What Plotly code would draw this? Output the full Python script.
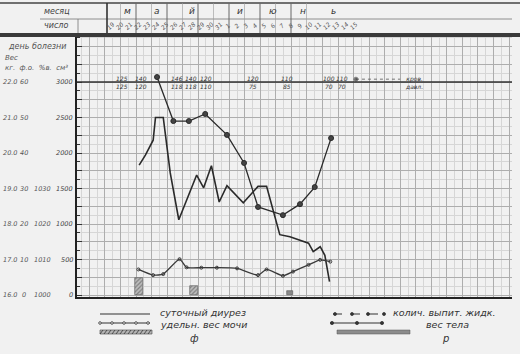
import plotly.graph_objects as go

# ---------------- data ----------------
# x unit = one day of observation (half a major grid cell)
diuresis_day = [8.4, 9.2, 10.2, 10.5, 11.5, 12.4, 13.5, 15.8, 16.7, 17.7, 18.7, 19.7, 21.8, 23.7, 24.8,
                26.5, 27.8, 30.2, 30.8, 31.7, 32.3, 32.9]
diuresis_ml = [1830, 1970, 2180, 2500, 2500, 1720, 1060, 1690, 1510, 1820, 1310, 1540, 1300, 1530, 1530,
               850, 820, 730, 610, 680, 560, 190]

weight_day = [10.7, 12.8, 14.8, 16.9, 19.7, 21.9, 23.7, 26.9, 29.1, 31.0, 33.1]
weight_kg = [22.14, 20.90, 20.90, 21.10, 20.51, 19.72, 18.48, 18.25, 18.56, 19.04, 20.42]

sg_day = [8.3, 10.2, 11.5, 13.6, 14.5, 16.4, 18.4, 21.0, 23.7, 24.8, 26.9, 28.2, 30.2, 31.7, 33.0]
sg_val = [1007.2, 1005.6, 1005.9, 1010.1, 1007.8, 1007.7, 1007.7, 1007.5, 1005.6, 1007.2, 1005.4,
          1006.6, 1008.5, 1009.9, 1009.4]

phi_day = [8.4, 15.5]
phi_val = [240, 130]
r_day = [27.8]
r_val = [50]

bp_day = [6.2, 8.6, 13.3, 15.1, 17.0, 23.1, 27.4, 32.8, 34.5]
bp_sys = ["125", "140", "146", "140", "120", "120", "110", "100", "110"]
bp_dia = ["125", "120", "118", "118", "110", "75", "85", "70", "70"]

ticks_ml = [3000, 2500, 2000, 1500, 1000, 500, 0]
ticks_kg = ["22.0", "21.0", "20.0", "19.0", "18.0", "17.0", "16.0"]
ticks_pct = ["60", "50", "40", "30", "20", "10", "0"]
ticks_sg = ["", "", "", "1030", "1020", "1010", "1000"]

may_letters = ["м", "а", "й"]
june_letters = ["и", "ю", "н", "ь"]
date_numbers = ["19", "20", "21", "22", "23", "24", "25", "26", "27", "28", "29", "30", "31",
                "1", "2", "3", "4", "5", "6", "7", "8", "9", "10", "11", "12", "13", "14", "15"]

# ---------------- geometry helpers (layout only) ----------------
W, H = 520, 354
L, R, T, B = 77, 8, 36, 57
PW, PH = W - L - R, H - T - B
def px(x):
    return (x - L) / PW
def py(y):
    return (H - B - y) / PH

Y0, Y1 = -28, 3648           # ml axis range
X0, X1 = 0.4, 0.4 + PW / 7.77
INK = "#2a2a2a"
PAPER = "#f1f1f1"
FONT = "DejaVu Sans"

fig = go.Figure()

# bars (ф hatched, р grey)
fig.add_trace(go.Bar(x=phi_day, y=phi_val, width=1.0,
                     marker=dict(color="#bdbdbd", line=dict(color="#555", width=0.6),
                                 pattern=dict(shape="/", fgcolor="#444", size=3, solidity=0.4)),
                     showlegend=False))
fig.add_trace(go.Bar(x=r_day, y=r_val, width=0.7,
                     marker=dict(color="#8a8a8a", line=dict(color="#555", width=0.6)),
                     showlegend=False))

# specific gravity of urine (line with small circles)
fig.add_trace(go.Scatter(x=sg_day, y=sg_val, yaxis="y3", mode="lines+markers",
                         line=dict(color="#3a3a3a", width=1.3, shape="spline", smoothing=0.5),
                         marker=dict(symbol="circle-open", size=3, color="#3a3a3a"),
                         showlegend=False))
# daily diuresis
fig.add_trace(go.Scatter(x=diuresis_day, y=diuresis_ml, mode="lines",
                         line=dict(color=INK, width=1.6), showlegend=False))
# body weight
fig.add_trace(go.Scatter(x=weight_day, y=weight_kg, yaxis="y2", mode="lines+markers",
                         line=dict(color=INK, width=1.3),
                         marker=dict(symbol="circle", size=5, color="#444",
                                     line=dict(color=INK, width=1)),
                         showlegend=False))

shapes = []
ann = []

def text(x, y, t, size=7, color="#444", xanchor="center", xref="paper", yref="paper", angle=0):
    ann.append(dict(x=x, y=y, xref=xref, yref=yref, text=f"<i>{t}</i>", showarrow=False,
                    xanchor=xanchor, yanchor="middle", textangle=angle,
                    font=dict(size=size, color=color, family=FONT)))

# blood-pressure baseline
shapes.append(dict(type="line", xref="paper", yref="y", x0=0, x1=1, y0=3000, y1=3000,
                   line=dict(color="#333", width=1.4)))
for d, s, dd in zip(bp_day, bp_sys, bp_dia):
    text(d, 3000, f"{s}<br>{dd}", size=6, color="#333", xref="x", yref="y")
fig.add_trace(go.Scatter(x=[36.3, 42.0], y=[3040, 3040], mode="lines+markers",
                         line=dict(color="#555", width=0.8, dash="dot"),
                         marker=dict(size=[4, 0], color="#333"), showlegend=False))
text(43.8, 3000, "кров.<br>давл.", size=6, color="#333", xref="x", yref="y")

# header table
def hline(y, x0, x1, w, c="#333"):
    shapes.append(dict(type="line", xref="paper", yref="paper", x0=px(x0), x1=px(x1), y0=py(y), y1=py(y),
                       line=dict(color=c, width=w)))
def vline(x, y0, y1, w, c="#555"):
    shapes.append(dict(type="line", xref="paper", yref="paper", x0=px(x), x1=px(x), y0=py(y0), y1=py(y1),
                       line=dict(color=c, width=w)))
hline(3, 0, 520, 1.5, "#444")
hline(19, 40, 512, 0.8, "#777")
shapes.append(dict(type="rect", xref="paper", yref="paper", x0=px(0), x1=px(520), y0=py(37), y1=py(33),
                   fillcolor="#3a3a3a", line=dict(width=0)))
vline(107, 3, 33, 1.6, "#333")
vline(78, 19, 33, 0.8, "#777")
for k in range(14):
    xx = 105 + 15.5 * k
    if xx > 107:
        vline(xx, 3, 33, 0.6 if k % 2 else 1.0, "#999" if k % 2 else "#666")
text(px(57), py(11), "месяц", size=8)
text(px(56), py(26), "число", size=8)
for lt, xx in zip(may_letters, [127, 157, 192]):
    text(px(xx), py(11), lt, size=9, color="#333")
for lt, xx in zip(june_letters, [240, 273, 303, 333]):
    text(px(xx), py(11), lt, size=9, color="#333")
for i, n in enumerate(date_numbers):
    text(px(111 + 9 * i), py(26), n, size=6, color="#555", angle=-45)

# left axis labels
text(px(6), py(46), "день болезни", size=8, color="#555", xanchor="left")
text(px(3), py(58), "Вес", size=7, color="#555", xanchor="left")
text(px(3), py(68), "кг.  ф.о.  %в.  см³", size=7, color="#555", xanchor="left")
for v, a, b, c in zip(ticks_ml, ticks_kg, ticks_pct, ticks_sg):
    text(px(10), v, a, size=6.5, color="#555", yref="y")
    text(px(24), v, b, size=6.5, color="#555", yref="y")
    if c:
        text(px(42), v, c, size=6.5, color="#555", yref="y")
    text(px(75), v, str(v), size=6.5, color="#444", xanchor="right", yref="y")

# bottom legend
def leg_line(x0, x1, y, dash="solid", w=1.2):
    shapes.append(dict(type="line", xref="paper", yref="paper", x0=px(x0), x1=px(x1), y0=py(y), y1=py(y),
                       line=dict(color="#333", width=w, dash=dash)))
def leg_dot(x, y, r, fill):
    shapes.append(dict(type="circle", xref="paper", yref="paper", x0=px(x - r), x1=px(x + r),
                       y0=py(y + r), y1=py(y - r), fillcolor=fill, line=dict(color="#333", width=0.8)))
def leg_text(x, y, t, size=9.5):
    text(px(x), py(y), t, size=size, color="#333", xanchor="left")

leg_line(100, 150, 314)
leg_text(158, 312, "суточный диурез")
leg_line(100, 150, 323)
for xx in [100, 112, 124, 136, 148]:
    leg_dot(xx, 323, 1.3, PAPER)
leg_text(158, 324, "удельн. вес мочи")
shapes.append(dict(type="rect", xref="paper", yref="paper", x0=px(100), x1=px(152), y0=py(334), y1=py(330),
                   fillcolor="#b5b5b5", line=dict(color="#444", width=0.6)))
for k in range(13):
    x0 = 100 + 4 * k
    shapes.append(dict(type="line", xref="paper", yref="paper", x0=px(x0), x1=px(x0 + 3),
                       y0=py(334), y1=py(330), line=dict(color="#333", width=0.8)))
leg_text(188, 338, "ф", 10)

leg_line(333, 385, 314, "dash")
for xx in [335, 352, 368, 384]:
    leg_dot(xx, 314, 1.5, "#333")
leg_text(391, 312, "колич. выпит. жидк.", 9.5)
leg_line(330, 383, 323)
for xx in [332, 357, 382]:
    leg_dot(xx, 323, 1.6, "#333")
leg_text(424, 324, "вес тела")
shapes.append(dict(type="rect", xref="paper", yref="paper", x0=px(337), x1=px(410), y0=py(334), y1=py(330),
                   fillcolor="#8c8c8c", line=dict(color="#555", width=0.5)))
leg_text(440, 338, "р", 10)

fig.update_layout(
    width=W, height=H,
    margin=dict(l=L, r=R, t=T, b=B),
    paper_bgcolor=PAPER, plot_bgcolor=PAPER,
    bargap=0,
    shapes=shapes, annotations=ann,
    xaxis=dict(range=[X0, X1], tickmode="linear", tick0=0, dtick=2, showticklabels=False,
               showgrid=True, gridcolor="#adadad", gridwidth=0.8,
               minor=dict(dtick=1, showgrid=True, gridcolor="#d6d6d6", gridwidth=0.5),
               zeroline=False, showline=True, linecolor="#222", linewidth=2.2, mirror=False),
    yaxis=dict(range=[Y0, Y1], tickmode="linear", tick0=0, dtick=250, showticklabels=False,
               showgrid=True, gridcolor="#adadad", gridwidth=0.8,
               minor=dict(dtick=125, showgrid=True, gridcolor="#d6d6d6", gridwidth=0.5,
                          ticks="inside", ticklen=3, tickcolor="#333"),
               ticks="inside", ticklen=5, tickcolor="#333",
               zeroline=False, showline=True, linecolor="#222", linewidth=1.6),
    yaxis2=dict(range=[16 + Y0 / 500, 16 + Y1 / 500], overlaying="y", visible=False),
    yaxis3=dict(range=[1000 + Y0 / 50, 1000 + Y1 / 50], overlaying="y", visible=False),
)

fig.write_html("out.html")
